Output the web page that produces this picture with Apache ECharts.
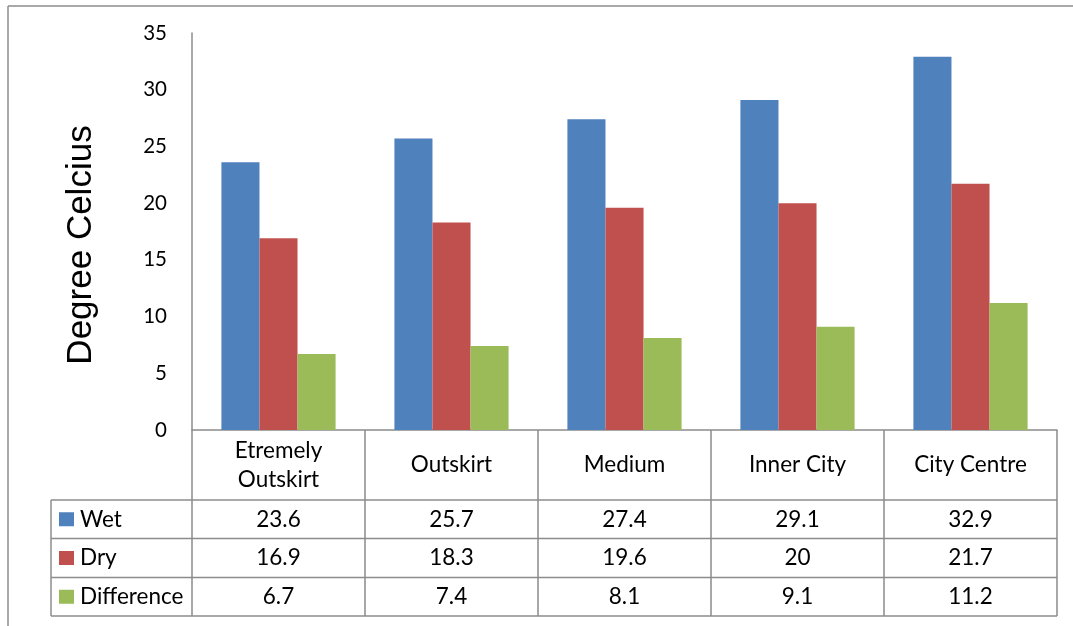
<!DOCTYPE html>
<html>
<head>
<meta charset="utf-8">
<script src="https://cdn.jsdelivr.net/npm/echarts@6/dist/echarts.min.js"></script>
<style>html,body{margin:0;padding:0;background:#fff}#c{width:1073px;height:626px}</style>
</head>
<body>
<div id="c"></div>
<script>
const categories = ['Etremely\nOutskirt', 'Outskirt', 'Medium', 'Inner City', 'City Centre'];
const seriesNames = ['Wet', 'Dry', 'Difference'];
const wet = [23.6, 25.7, 27.4, 29.1, 32.9];
const dry = [16.9, 18.3, 19.6, 20, 21.7];
const difference = [6.7, 7.4, 8.1, 9.1, 11.2];
const yTicks = [0, 5, 10, 15, 20, 25, 30, 35];
const axisTitle = 'Degree Celcius';

const colors = ['#4F81BD', '#C0504D', '#9BBB59'];
const values = [wet, dry, difference];
const FONT = 'Lato';
const LINE = '#8c8c8c';
const TFS = 22.5;

const chart = echarts.init(document.getElementById('c'));
const G = {left: 192, right: 16, top: 33, bottom: 196};
const option = {
  animation: false,
  textStyle: {fontFamily: FONT},
  grid: G,
  xAxis: {
    type: 'category', data: categories,
    axisLine: {lineStyle: {color: LINE, width: 1.5}},
    axisTick: {show: true, interval: 0, length: 186, lineStyle: {color: LINE, width: 1.5}},
    axisLabel: {interval: 0, margin: 35, verticalAlign: 'middle', color: '#000', fontSize: TFS, lineHeight: 29, fontFamily: FONT}
  },
  yAxis: {
    type: 'value', min: yTicks[0], max: yTicks[yTicks.length - 1], interval: 5,
    axisLine: {show: true, lineStyle: {color: LINE, width: 1.5}},
    axisTick: {show: false},
    splitLine: {show: false},
    axisLabel: {margin: 25, color: '#000', fontSize: 20.5, fontFamily: FONT}
  },
  series: seriesNames.map((n, i) => ({
    name: n, type: 'bar', data: values[i],
    barGap: '0%', barCategoryGap: '34%',
    itemStyle: {color: colors[i]}
  }))
};
chart.setOption(option);

// data table + decorations
const graphics = [];
const W = 1073, H = 626;
graphics.push({type: 'line', shape: {x1: 8, y1: 6, x2: W, y2: 6}, style: {stroke: LINE, lineWidth: 1.5}});
graphics.push({type: 'line', shape: {x1: 8, y1: 6, x2: 8, y2: H}, style: {stroke: LINE, lineWidth: 1.5}});
graphics.push({type: 'text', x: 81, y: 245, rotation: Math.PI / 2,
  style: {text: axisTitle, font: '35px "Liberation Sans"', fill: '#000', textAlign: 'center', textVerticalAlign: 'middle'}});

const x0 = chart.convertToPixel({xAxisIndex: 0}, 0);
const x1 = chart.convertToPixel({xAxisIndex: 0}, 1);
const band = x1 - x0;
const tableLeft = 51;
const tableRight = x0 - band / 2 + band * categories.length;
const rowTops = [500, 538.5, 577.5, 616];
rowTops.forEach(y => graphics.push({type: 'line', shape: {x1: tableLeft, y1: y, x2: tableRight, y2: y}, style: {stroke: LINE, lineWidth: 1.5}}));
graphics.push({type: 'line', shape: {x1: tableLeft, y1: rowTops[0], x2: tableLeft, y2: rowTops[3]}, style: {stroke: LINE, lineWidth: 1.5}});
seriesNames.forEach((n, i) => {
  const cy = (rowTops[i] + rowTops[i + 1]) / 2;
  graphics.push({type: 'rect', shape: {x: 59, y: cy - 7, width: 15, height: 14}, style: {fill: colors[i]}});
  graphics.push({type: 'text', x: 80, y: cy, style: {text: n, font: TFS + 'px ' + FONT, fill: '#000', textAlign: 'left', textVerticalAlign: 'middle'}});
  values[i].forEach((v, j) => {
    const cx = chart.convertToPixel({xAxisIndex: 0}, j);
    graphics.push({type: 'text', x: cx, y: cy, style: {text: String(v), font: TFS + 'px ' + FONT, fill: '#000', textAlign: 'center', textVerticalAlign: 'middle'}});
  });
});
chart.setOption({graphic: graphics});
</script>
</body>
</html>
